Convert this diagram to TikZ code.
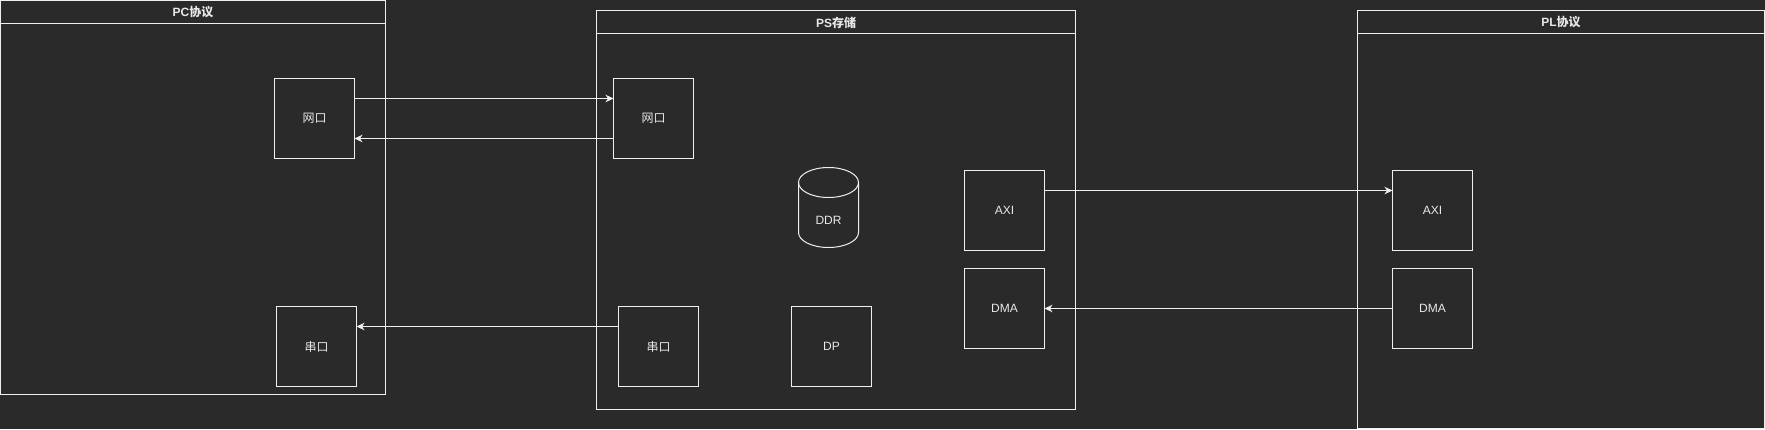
\documentclass[tikz,border=0pt]{standalone}
\usepackage{fontspec}
\setmainfont{Liberation Sans}
\newfontfamily\cjk{Noto Sans CJK SC}
\usetikzlibrary{arrows.meta}
\definecolor{bg}{HTML}{2A2A2A}
\definecolor{ln}{HTML}{F0F0F0}
\definecolor{tx}{HTML}{E8E8E8}
\begin{document}
\begin{tikzpicture}[x=1pt,y=-1pt,
  every node/.style={font=\fontsize{12}{14}\selectfont, text=tx, inner sep=0pt, outer sep=0pt},
  box/.style={draw=ln, line width=1pt, rectangle, minimum width=80pt, minimum height=80pt},
  lane/.style={draw=ln, line width=1pt, rectangle, anchor=north west},
  title/.style={font=\fontsize{12}{14}\selectfont\bfseries},
  arr/.style={draw=ln, line width=1pt, -{Stealth[length=8pt,width=7.5pt,inset=2.5pt]}}
]
\useasboundingbox (0,0) rectangle (1765,429);
\fill[bg] (0,0) rectangle (1765,429);

% containers
\node[lane, minimum width=385pt, minimum height=394pt] (pc) at (0.5,0.5) {};
\node[lane, minimum width=479pt, minimum height=399pt] (ps) at (596.5,10.5) {};
\node[lane, minimum width=407pt, minimum height=418pt] (pl) at (1357.5,10.5) {};
\draw[ln, line width=1pt] ([yshift=-23pt]pc.north west) -- ([yshift=-23pt]pc.north east);
\draw[ln, line width=1pt] ([yshift=-23pt]ps.north west) -- ([yshift=-23pt]ps.north east);
\draw[ln, line width=1pt] ([yshift=-23pt]pl.north west) -- ([yshift=-23pt]pl.north east);
\node[title] (pct) at (193,12.5) {PC{\cjk\bfseries 协议}};
\node[title] (pst) at (836,22.5) {PS{\cjk\bfseries 存储}};
\node[title] (plt) at (1561,22.5) {PL{\cjk\bfseries 协议}};

% PC boxes
\node[box] (pcnet) at (314.5,118.5) {\cjk 网口};
\node[box] (pcser) at (316.5,346.5) {\cjk 串口};

% PS boxes
\node[box] (psnet) at (653.5,118.5) {\cjk 网口};
\node[box] (psser) at (658.5,346.5) {\cjk 串口};
\node[box] (dp) at (831.5,346.5) {DP};
\node[box] (psaxi) at (1004.5,210.5) {AXI};
\node[box] (psdma) at (1004.5,308.5) {DMA};

% DDR cylinder
\node (ddr) at (828.5,220) {DDR};
\draw[ln, line width=1pt] (798.5,182.5) -- (798.5,232.5)
  arc[start angle=180, end angle=0, x radius=30, y radius=15] -- (858.5,182.5);
\draw[ln, line width=1pt] (828.5,182.5) ellipse [x radius=30, y radius=15];

% PL boxes
\node[box] (plaxi) at (1432.5,210.5) {AXI};
\node[box] (pldma) at (1432.5,308.5) {DMA};

% connectors
\draw[arr] ([yshift=20pt]pcnet.east) -- ([yshift=20pt]psnet.west);
\draw[arr] ([yshift=-20pt]psnet.west) -- ([yshift=-20pt]pcnet.east);
\draw[arr] ([yshift=20pt]psser.west) -- ([yshift=20pt]pcser.east);
\draw[arr] ([yshift=20pt]psaxi.east) -- ([yshift=20pt]plaxi.west);
\draw[arr] (pldma.west) -- (psdma.east);
\end{tikzpicture}
\end{document}
